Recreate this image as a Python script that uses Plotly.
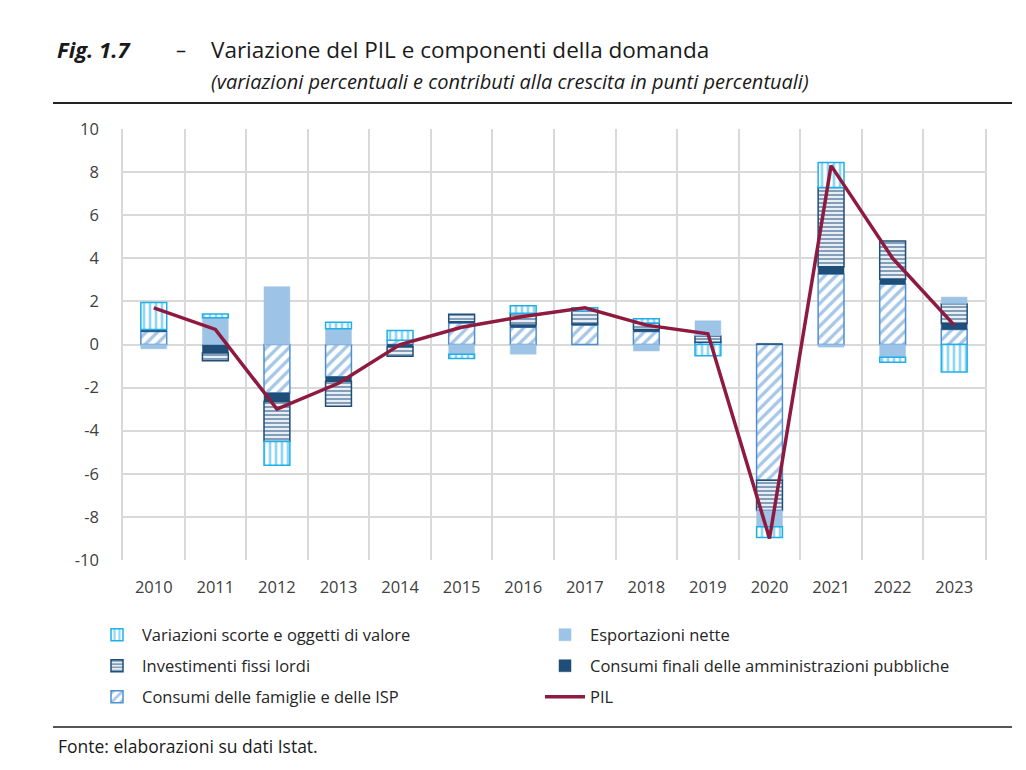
import plotly.graph_objects as go

years = ["2010", "2011", "2012", "2013", "2014", "2015", "2016",
         "2017", "2018", "2019", "2020", "2021", "2022", "2023"]
consumi_famiglie = [0.6, 0.0, -2.25, -1.5, 0.2, 1.0, 0.8, 0.9, 0.6, 0.1, -6.3, 3.27, 2.8, 0.7]
consumi_pa = [0.1, -0.4, -0.4, -0.2, -0.1, 0.05, 0.1, 0.05, 0.1, 0.0, 0.05, 0.34, 0.23, 0.27]
investimenti = [0.0, -0.35, -1.85, -1.16, -0.45, 0.35, 0.55, 0.6, 0.3, 0.3, -1.4, 3.67, 1.77, 0.92]
esportazioni = [-0.2, 1.24, 2.68, 0.73, 0.0, -0.45, -0.45, 0.0, -0.3, 0.7, -0.76, -0.12, -0.59, 0.31]
scorte = [1.25, 0.18, -1.1, 0.3, 0.45, -0.2, 0.35, 0.15, 0.2, -0.52, -0.5, 1.16, -0.23, -1.28]
pil = [1.7, 0.7, -3.0, -1.8, 0.0, 0.8, 1.3, 1.7, 0.9, 0.5, -9.0, 8.3, 4.0, 0.9]
y_tickvals = [-10, -8, -6, -4, -2, 0, 2, 4, 6, 8, 10]
y_ticktext = ["-10", "-8", "-6", "-4", "-2", "0", "2", "4", "6", "8", "10"]

FONT = "Open Sans"
CYAN = "#1FB0EA"
LIGHT = "#9DC3E6"
NAVY = "#1F4E79"
MID = "#4F8FD0"
PILC = "#8E1B3F"
BW = 0.42

fig = go.Figure()
fig.add_trace(go.Bar(
    x=years, y=consumi_famiglie, name="Consumi delle famiglie e delle ISP", width=BW,
    legend="legend3", legendrank=1,
    marker=dict(color="white", line=dict(color=MID, width=1.5),
                pattern=dict(shape="/", fgcolor=MID, size=8, solidity=0.42, fillmode="overlay"))))
fig.add_trace(go.Bar(
    x=years, y=consumi_pa, name="Consumi finali delle amministrazioni pubbliche", width=BW,
    legend="legend2", legendrank=2,
    marker=dict(color=NAVY, line=dict(color=NAVY, width=0.5))))
fig.add_trace(go.Bar(
    x=years, y=investimenti, name="Investimenti fissi lordi", width=BW,
    legend="legend2", legendrank=1,
    marker=dict(color="#E8EEF5", line=dict(color=NAVY, width=1.5),
                pattern=dict(shape="-", fgcolor=NAVY, size=4, solidity=0.5, fillmode="overlay"))))
fig.add_trace(go.Bar(
    x=years, y=esportazioni, name="Esportazioni nette", width=BW,
    legend="legend", legendrank=2,
    marker=dict(color=LIGHT, line=dict(color=LIGHT, width=0.5))))
fig.add_trace(go.Bar(
    x=years, y=scorte, name="Variazioni scorte e oggetti di valore", width=BW,
    legend="legend", legendrank=1,
    marker=dict(color="white", line=dict(color=CYAN, width=1.5),
                pattern=dict(shape="|", fgcolor=CYAN, size=6, solidity=0.45, fillmode="overlay"))))
fig.add_trace(go.Scatter(
    x=years, y=pil, name="PIL", mode="lines", legend="legend3", legendrank=2,
    line=dict(color=PILC, width=3.5)))

GRID = "#D9D9D9"

def px(xp):
    return (xp - 123) / 862

def py(yp):
    return (560 - yp) / 431

leg_common = dict(orientation="h", x=px(92), xanchor="left", yanchor="middle",
                  entrywidth=393, entrywidthmode="pixels", traceorder="normal",
                  font=dict(family=FONT, size=16.5, color="#262626"), itemwidth=40,
                  bgcolor="rgba(0,0,0,0)")

fig.update_layout(
    width=1026, height=770,
    margin=dict(l=123, r=41, t=129, b=210),
    paper_bgcolor="white", plot_bgcolor="white",
    barmode="relative", bargap=0.3,
    font=dict(family=FONT, size=16, color="#404040"),
    showlegend=True,
    legend=dict(y=py(635), **leg_common),
    legend2=dict(y=py(666), **leg_common),
    legend3=dict(y=py(697), **leg_common),
    xaxis=dict(type="category", tickson="boundaries", showgrid=True, gridcolor=GRID,
               gridwidth=1.5, ticks="", showline=False, ticklabelstandoff=15,
               tickfont=dict(family=FONT, size=16.5, color="#404040"), range=[-0.5, 13.5]),
    yaxis=dict(range=[-10, 10], tickvals=y_tickvals, ticktext=y_ticktext,
               showgrid=True, gridcolor=GRID, gridwidth=1.5,
               zeroline=True, zerolinecolor=GRID, zerolinewidth=1.5, ticks="",
               showline=True, linecolor=GRID, linewidth=1.5, mirror=True,
               ticklabelstandoff=19,
               tickfont=dict(family=FONT, size=16.5, color="#404040")),
)

annots = [
    dict(text="<b><i>Fig. 1.7</i></b>", x=px(55), y=py(49), size=22),
    dict(text="\u2013", x=px(174), y=py(49), size=20),
    dict(text="Variazione del PIL e componenti della domanda", x=px(209), y=py(49), size=22.5),
    dict(text="<i>(variazioni percentuali e contributi alla crescita in punti percentuali)</i>",
         x=px(209), y=py(81), size=20),
    dict(text="Fonte: elaborazioni su dati Istat.", x=px(56), y=py(746), size=17.5),
]
for a in annots:
    fig.add_annotation(text=a["text"], x=a["x"], y=a["y"], xref="paper", yref="paper",
                       xanchor="left", yanchor="middle", showarrow=False,
                       font=dict(family=FONT, size=a["size"], color="#1a1a1a"))

fig.add_shape(type="line", xref="paper", yref="paper", x0=px(53), x1=px(1012),
              y0=py(103), y1=py(103), line=dict(color="#222222", width=2))
fig.add_shape(type="line", xref="paper", yref="paper", x0=px(53), x1=px(1012),
              y0=py(727), y1=py(727), line=dict(color="#555555", width=2))

fig.write_html("out.html")
